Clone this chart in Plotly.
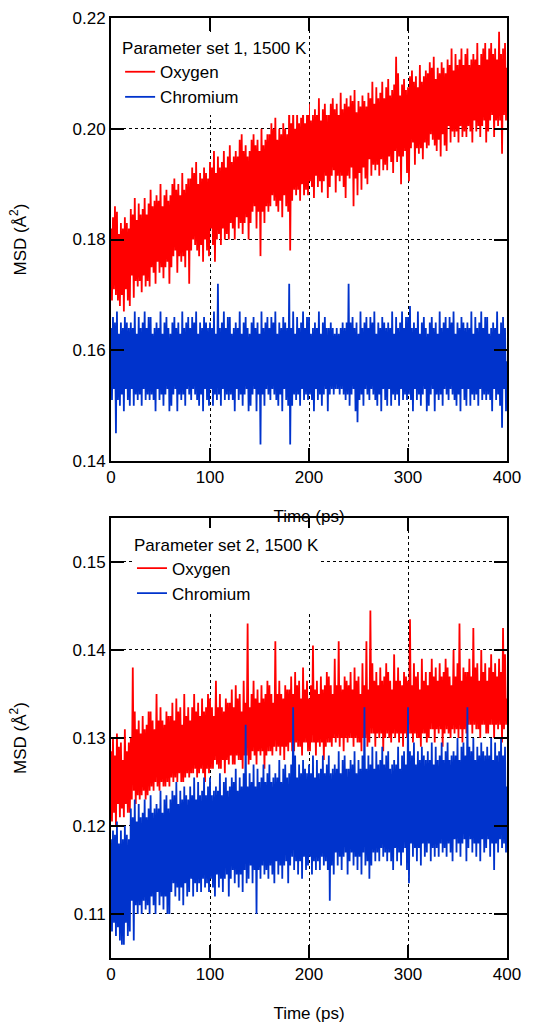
import plotly.graph_objects as go

# time axis, 1 ps sampling (0 .. 400 ps)
time_ps = list(range(401))

# Parameter set 1 — oxygen MSD (Å^2), one row per 20 ps
o1_msd = [
.1820,.1690,.1840,.1710,.1860,.1700,.1850,.1690,.1810,.1680,.1830,.1700,.1820,.1670,.1840,.1710,.1830,.1690,.1820,.1680,
.1855,.1735,.1845,.1695,.1875,.1725,.1835,.1715,.1865,.1725,.1845,.1705,.1855,.1735,.1875,.1715,.1845,.1725,.1865,.1715,
.1890,.1750,.1860,.1740,.1870,.1720,.1880,.1760,.1870,.1740,.1900,.1750,.1860,.1730,.1880,.1750,.1890,.1760,.1870,.1720,
.1880,.1750,.1900,.1770,.1910,.1780,.1890,.1740,.1900,.1770,.1880,.1760,.1920,.1770,.1890,.1750,.1900,.1780,.1910,.1720,
.1910,.1780,.1930,.1800,.1920,.1790,.1940,.1780,.1900,.1770,.1920,.1790,.1910,.1760,.1930,.1800,.1920,.1780,.1910,.1770,
.1940,.1820,.1930,.1790,.1960,.1760,.1920,.1800,.1950,.1810,.1930,.1790,.1940,.1820,.1960,.1800,.1930,.1810,.1950,.1800,
.1970,.1830,.1940,.1820,.1950,.1800,.1960,.1840,.1950,.1820,.1980,.1830,.1990,.1810,.1960,.1830,.1970,.1840,.1950,.1800,
.1960,.1830,.1980,.1850,.1990,.1860,.1970,.1820,.1980,.1850,.1960,.1770,.2000,.1850,.1970,.1830,.1980,.1860,.1990,.1850,
.1990,.1860,.2010,.1880,.2000,.1870,.2020,.1860,.1980,.1850,.2000,.1870,.1990,.1840,.2010,.1880,.2000,.1860,.1990,.1850,
.2050,.1780,.2010,.1870,.2040,.1890,.2000,.1880,.2030,.1890,.2010,.1870,.2020,.1900,.2040,.1880,.2010,.1890,.2030,.1880,
.2045,.1905,.2015,.1895,.2025,.1875,.2035,.1915,.2025,.1895,.2055,.1905,.2015,.1885,.2035,.1905,.2045,.1915,.2025,.1875,
.2025,.1895,.2045,.1915,.2055,.1925,.2035,.1885,.2045,.1915,.2025,.1905,.2065,.1915,.2035,.1895,.2045,.1875,.2055,.1915,
.2040,.1910,.2060,.1930,.2050,.1860,.2070,.1910,.2030,.1880,.2050,.1920,.2040,.1890,.2060,.1930,.2050,.1910,.2040,.1900,
.2065,.1945,.2055,.1915,.2085,.1935,.2045,.1925,.2075,.1935,.2055,.1915,.2065,.1945,.2085,.1925,.2055,.1935,.2075,.1925,
.2090,.1950,.2060,.1940,.2070,.1920,.2080,.1960,.2130,.1940,.2100,.1950,.2060,.1900,.2080,.1950,.2090,.1960,.2070,.1920,
.2075,.1905,.2095,.1965,.2105,.1975,.2085,.1935,.2095,.1965,.2075,.1955,.2115,.1965,.2085,.1945,.2095,.1975,.2105,.1965,
.2100,.1970,.2120,.1990,.2110,.1980,.2130,.1970,.2090,.1960,.2110,.1980,.2100,.1950,.2120,.1990,.2110,.1970,.2100,.1960,
.2125,.2005,.2115,.1975,.2145,.1995,.2105,.1985,.2135,.1995,.2115,.1975,.2125,.2005,.2145,.1985,.2115,.1995,.2135,.1985,
.2145,.2005,.2115,.1995,.2125,.1975,.2135,.2015,.2125,.1995,.2155,.2005,.2115,.1985,.2135,.2005,.2145,.2015,.2155,.1975,
.2125,.1995,.2145,.2015,.2155,.2025,.2135,.1985,.2145,.2015,.2125,.2005,.2175,.2015,.2135,.1955,.2145,.2025,.2155,.2015,
.2110,
]

# Parameter set 1 — chromium MSD (Å^2)
cr1_msd = [
.164,.151,.166,.153,.165,.145,.167,.151,.163,.150,.165,.152,.164,.149,.166,.153,.165,.151,.164,.150,
.165,.153,.164,.150,.167,.152,.163,.151,.166,.152,.164,.150,.165,.153,.167,.151,.164,.152,.166,.151,
.166,.152,.163,.151,.164,.149,.165,.153,.164,.151,.167,.152,.163,.150,.165,.152,.166,.153,.164,.149,
.163,.150,.165,.152,.166,.153,.164,.149,.165,.152,.163,.151,.167,.152,.164,.150,.165,.153,.166,.152,
.164,.151,.166,.153,.165,.152,.167,.151,.163,.150,.165,.152,.164,.149,.166,.153,.165,.151,.164,.150,
.165,.153,.164,.150,.167,.152,.163,.151,.172,.152,.164,.150,.165,.153,.167,.151,.164,.152,.166,.151,
.166,.152,.163,.151,.164,.149,.165,.153,.164,.151,.167,.152,.163,.150,.165,.152,.166,.153,.164,.149,
.163,.150,.165,.152,.166,.153,.164,.149,.165,.152,.163,.143,.167,.152,.164,.150,.165,.153,.166,.152,
.164,.151,.166,.153,.165,.152,.167,.151,.163,.150,.165,.152,.164,.149,.166,.153,.165,.151,.164,.150,
.172,.143,.164,.150,.167,.152,.163,.151,.166,.152,.164,.150,.165,.153,.167,.151,.164,.152,.166,.151,
.166,.152,.163,.151,.164,.149,.165,.153,.164,.151,.167,.152,.163,.150,.165,.152,.166,.153,.164,.149,
.164,.152,.165,.153,.164,.152,.163,.153,.164,.153,.163,.152,.164,.153,.165,.152,.164,.151,.165,.152,
.172,.150,.165,.152,.166,.153,.164,.149,.165,.147,.163,.151,.167,.152,.164,.150,.165,.153,.166,.152,
.164,.151,.166,.153,.165,.152,.167,.151,.163,.150,.165,.152,.164,.149,.166,.153,.165,.151,.164,.150,
.165,.153,.164,.150,.167,.152,.163,.151,.166,.152,.164,.150,.165,.153,.167,.151,.164,.152,.166,.151,
.166,.152,.168,.151,.164,.149,.165,.153,.164,.151,.167,.152,.163,.150,.165,.152,.166,.153,.164,.149,
.163,.150,.165,.152,.166,.153,.164,.149,.165,.152,.163,.151,.167,.152,.164,.150,.165,.153,.166,.152,
.164,.151,.166,.153,.165,.152,.167,.151,.163,.150,.165,.152,.164,.149,.166,.153,.165,.151,.164,.150,
.165,.153,.164,.150,.167,.152,.163,.151,.166,.152,.164,.150,.165,.153,.167,.151,.164,.152,.166,.151,
.166,.152,.163,.151,.164,.149,.165,.153,.164,.151,.167,.152,.163,.150,.165,.146,.166,.153,.164,.149,
.158,
]

# Parameter set 2 — oxygen MSD (Å^2)
o2_msd = [
.1285,.1205,.1300,.1215,.1280,.1200,.1305,.1225,.1290,.1210,.1295,.1220,.1275,.1210,.1310,.1225,.1285,.1215,.1295,.1215,
.1300,.1230,.1380,.1240,.1330,.1225,.1310,.1235,.1320,.1230,.1305,.1235,.1325,.1240,.1310,.1230,.1315,.1235,.1330,.1240,
.1330,.1245,.1320,.1240,.1310,.1250,.1350,.1245,.1320,.1240,.1335,.1250,.1320,.1245,.1315,.1245,.1330,.1250,.1325,.1245,
.1325,.1255,.1340,.1250,.1320,.1255,.1345,.1250,.1330,.1260,.1335,.1250,.1315,.1250,.1350,.1255,.1325,.1260,.1335,.1255,
.1320,.1260,.1335,.1260,.1350,.1265,.1330,.1255,.1340,.1260,.1325,.1265,.1345,.1260,.1330,.1250,.1335,.1265,.1350,.1260,
.1345,.1265,.1335,.1265,.1325,.1275,.1365,.1270,.1335,.1265,.1350,.1265,.1335,.1275,.1330,.1260,.1345,.1275,.1340,.1270,
.1340,.1280,.1355,.1270,.1335,.1270,.1360,.1280,.1345,.1275,.1350,.1275,.1330,.1265,.1365,.1280,.1340,.1280,.1430,.1270,
.1335,.1275,.1350,.1285,.1365,.1280,.1345,.1270,.1355,.1285,.1340,.1280,.1360,.1285,.1345,.1265,.1350,.1280,.1365,.1285,
.1360,.1285,.1350,.1280,.1340,.1290,.1410,.1285,.1350,.1290,.1365,.1280,.1350,.1290,.1345,.1275,.1360,.1290,.1355,.1285,
.1355,.1295,.1370,.1285,.1350,.1285,.1375,.1295,.1360,.1290,.1365,.1290,.1345,.1280,.1380,.1295,.1355,.1295,.1365,.1285,
.1345,.1285,.1360,.1295,.1405,.1295,.1355,.1280,.1365,.1295,.1350,.1290,.1370,.1295,.1355,.1275,.1360,.1290,.1375,.1295,
.1370,.1295,.1360,.1290,.1350,.1300,.1390,.1295,.1360,.1300,.1410,.1290,.1360,.1300,.1355,.1285,.1370,.1300,.1365,.1295,
.1360,.1300,.1375,.1300,.1355,.1290,.1380,.1300,.1365,.1295,.1370,.1295,.1350,.1285,.1385,.1300,.1360,.1300,.1410,.1290,
.1355,.1295,.1445,.1305,.1385,.1305,.1365,.1290,.1375,.1305,.1360,.1300,.1380,.1305,.1365,.1285,.1370,.1300,.1385,.1305,
.1375,.1300,.1365,.1295,.1355,.1305,.1395,.1300,.1365,.1305,.1380,.1295,.1365,.1305,.1360,.1290,.1375,.1305,.1370,.1300,
.1365,.1305,.1435,.1305,.1360,.1295,.1385,.1305,.1370,.1300,.1375,.1300,.1355,.1290,.1390,.1305,.1365,.1305,.1375,.1295,
.1360,.1300,.1375,.1310,.1390,.1310,.1370,.1295,.1380,.1310,.1365,.1305,.1385,.1310,.1370,.1290,.1375,.1305,.1390,.1310,
.1380,.1305,.1370,.1300,.1360,.1310,.1400,.1305,.1370,.1310,.1385,.1300,.1430,.1310,.1365,.1295,.1380,.1310,.1375,.1305,
.1375,.1315,.1390,.1315,.1370,.1305,.1425,.1315,.1380,.1310,.1385,.1310,.1365,.1300,.1400,.1315,.1375,.1315,.1385,.1305,
.1365,.1305,.1380,.1315,.1395,.1315,.1375,.1300,.1385,.1315,.1370,.1310,.1390,.1315,.1375,.1295,.1425,.1310,.1395,.1315,
.1345,
]

# Parameter set 2 — chromium MSD (Å^2)
cr2_msd = [
.1185,.1080,.1195,.1090,.1190,.1075,.1205,.1085,.1180,.1070,.1195,.1065,.1185,.1065,.1200,.1090,.1190,.1075,.1185,.1080,
.1220,.1115,.1210,.1070,.1230,.1110,.1205,.1100,.1225,.1110,.1210,.1100,.1215,.1115,.1230,.1105,.1210,.1110,.1220,.1100,
.1235,.1120,.1215,.1110,.1220,.1100,.1225,.1125,.1220,.1110,.1240,.1120,.1215,.1105,.1230,.1120,.1235,.1100,.1220,.1100,
.1230,.1125,.1240,.1135,.1235,.1120,.1250,.1130,.1225,.1115,.1240,.1130,.1230,.1110,.1245,.1135,.1235,.1120,.1230,.1125,
.1245,.1140,.1235,.1120,.1255,.1135,.1230,.1125,.1250,.1135,.1235,.1125,.1240,.1140,.1255,.1130,.1235,.1135,.1245,.1125,
.1255,.1140,.1235,.1130,.1240,.1120,.1245,.1145,.1240,.1130,.1260,.1140,.1235,.1125,.1250,.1140,.1255,.1145,.1240,.1120,
.1245,.1140,.1255,.1150,.1250,.1135,.1265,.1145,.1240,.1130,.1255,.1145,.1245,.1125,.1260,.1150,.1315,.1135,.1245,.1140,
.1260,.1155,.1250,.1135,.1270,.1150,.1245,.1100,.1265,.1150,.1250,.1140,.1255,.1155,.1270,.1145,.1250,.1150,.1260,.1140,
.1270,.1155,.1250,.1145,.1255,.1135,.1260,.1160,.1255,.1145,.1275,.1155,.1250,.1140,.1265,.1155,.1270,.1160,.1255,.1135,
.1260,.1155,.1270,.1165,.1335,.1150,.1280,.1160,.1255,.1145,.1270,.1160,.1260,.1140,.1275,.1165,.1265,.1150,.1260,.1155,
.1270,.1165,.1260,.1145,.1280,.1160,.1255,.1150,.1275,.1160,.1260,.1150,.1265,.1165,.1280,.1155,.1260,.1160,.1270,.1150,
.1280,.1115,.1260,.1155,.1265,.1145,.1270,.1170,.1265,.1155,.1285,.1165,.1260,.1150,.1275,.1165,.1280,.1170,.1265,.1145,
.1265,.1160,.1275,.1170,.1270,.1155,.1285,.1165,.1260,.1150,.1275,.1165,.1265,.1145,.1280,.1170,.1335,.1155,.1265,.1160,
.1280,.1140,.1270,.1155,.1290,.1170,.1265,.1160,.1285,.1170,.1270,.1160,.1275,.1175,.1290,.1165,.1270,.1170,.1280,.1160,
.1285,.1170,.1265,.1160,.1270,.1150,.1275,.1175,.1270,.1160,.1290,.1170,.1265,.1155,.1280,.1170,.1285,.1175,.1270,.1150,
.1335,.1135,.1285,.1180,.1280,.1165,.1295,.1175,.1270,.1160,.1285,.1175,.1275,.1155,.1290,.1180,.1280,.1165,.1275,.1170,
.1285,.1180,.1275,.1160,.1295,.1175,.1270,.1165,.1290,.1175,.1275,.1165,.1280,.1180,.1295,.1170,.1275,.1175,.1285,.1165,
.1295,.1180,.1275,.1170,.1280,.1160,.1285,.1185,.1280,.1170,.1300,.1180,.1275,.1165,.1290,.1180,.1295,.1185,.1280,.1160,
.1335,.1175,.1290,.1185,.1285,.1170,.1300,.1180,.1275,.1165,.1290,.1180,.1280,.1160,.1295,.1185,.1285,.1170,.1280,.1175,
.1290,.1185,.1280,.1165,.1300,.1180,.1275,.1150,.1295,.1180,.1280,.1170,.1285,.1185,.1300,.1175,.1280,.1180,.1290,.1170,
.1245,
]

x_ticks = [0, 100, 200, 300, 400]
y1_ticks = [0.14, 0.16, 0.18, 0.20, 0.22]
y2_ticks = [0.11, 0.12, 0.13, 0.14, 0.15]

RED = "#ff0000"
BLUE = "#0033cc"
FONT = "Arial, Liberation Sans, sans-serif"
LW = 1.8

fig = go.Figure()
fig.add_trace(go.Scatter(x=time_ps, y=o1_msd, mode="lines", name="Oxygen",
                         line=dict(color=RED, width=LW), xaxis="x", yaxis="y", legend="legend"))
fig.add_trace(go.Scatter(x=time_ps, y=cr1_msd, mode="lines", name="Chromium",
                         line=dict(color=BLUE, width=LW), xaxis="x", yaxis="y", legend="legend"))
fig.add_trace(go.Scatter(x=time_ps, y=o2_msd, mode="lines", name="Oxygen",
                         line=dict(color=RED, width=LW), xaxis="x2", yaxis="y2", legend="legend2"))
fig.add_trace(go.Scatter(x=time_ps, y=cr2_msd, mode="lines", name="Chromium",
                         line=dict(color=BLUE, width=LW), xaxis="x2", yaxis="y2", legend="legend2"))

axis_common = dict(
    showline=True, linecolor="black", linewidth=2, mirror="ticks",
    ticks="inside", ticklen=13, tickwidth=2, tickcolor="black",
    showgrid=True, gridcolor="black", gridwidth=1, griddash="dot",
    zeroline=False, automargin=False,
    tickfont=dict(size=17, color="black", family=FONT),
)

fig.update_layout(
    width=533, height=1024,
    margin=dict(l=111, r=26, t=18, b=66),
    paper_bgcolor="white", plot_bgcolor="white",
    font=dict(family=FONT, color="black", size=17),
    xaxis=dict(domain=[0, 1], anchor="y", range=[0, 400], tickvals=x_ticks,
               title=dict(text="Time (ps)", standoff=24, font=dict(size=17)), **axis_common),
    yaxis=dict(domain=[0.5287, 1.0], anchor="x", range=[0.14, 0.22], tickvals=y1_ticks,
               tickformat=".2f",
               title=dict(text="MSD (Å<sup>2</sup>)", standoff=42, font=dict(size=17)), **axis_common),
    xaxis2=dict(domain=[0, 1], anchor="y2", range=[0, 400], tickvals=x_ticks,
                title=dict(text="Time (ps)", standoff=24, font=dict(size=17)), **axis_common),
    yaxis2=dict(domain=[0, 0.4681], anchor="x2", range=[0.105, 0.155], tickvals=y2_ticks,
                tickformat=".2f",
                title=dict(text="MSD (Å<sup>2</sup>)", standoff=42, font=dict(size=17)), **axis_common),
    legend=dict(x=0.023, y=0.985, xanchor="left", yanchor="top",
                bgcolor="white", borderwidth=0,
                title=dict(text="Parameter set 1, 1500 K", font=dict(size=17)),
                font=dict(size=17), tracegroupgap=0, itemwidth=30),
    legend2=dict(x=0.053, y=0.457, xanchor="left", yanchor="top",
                 bgcolor="white", borderwidth=0,
                 title=dict(text="Parameter set 2, 1500 K", font=dict(size=17)),
                 font=dict(size=17), tracegroupgap=0, itemwidth=30),
)

fig.write_html("out.html")
